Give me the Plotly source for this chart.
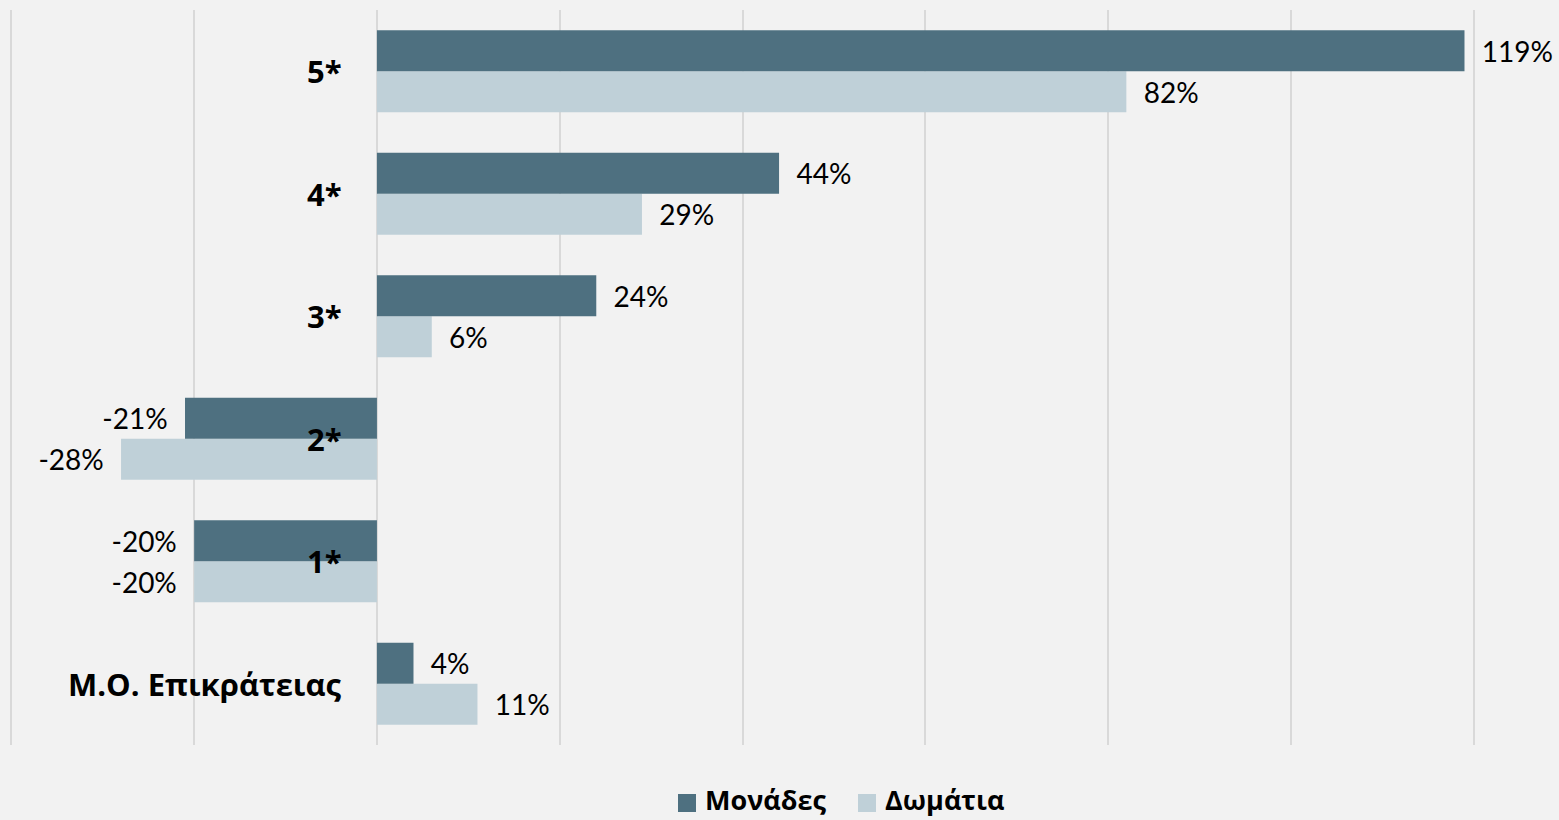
import plotly.graph_objects as go

# Star categories, bottom to top
categories = ["Μ.Ο. Επικράτειας", "1*", "2*", "3*", "4*", "5*"]
monades = [4, -20, -21, 24, 44, 119]     # % change, units
domatia = [11, -20, -28, 6, 29, 82]      # % change, rooms

DARK = "#4e7080"
LIGHT = "#bfd0d8"
BG = "#f2f2f2"
PAD = "\u00a0\u00a0"

W, H = 1559, 820
ML, MR, MT, MB = 10, 84, 10, 75


def labels(values):
    return [f"{PAD}{v}%" if v >= 0 else f"{v}%{PAD}" for v in values]


fig = go.Figure()
fig.add_trace(go.Bar(
    y=categories, x=domatia, orientation="h", name="Δωμάτια",
    marker=dict(color=LIGHT, line=dict(width=0)),
    text=labels(domatia), textposition="outside", cliponaxis=False,
    constraintext="none",
    textfont=dict(family="Lato", size=28, color="#000000"),
))
fig.add_trace(go.Bar(
    y=categories, x=monades, orientation="h", name="Μονάδες",
    marker=dict(color=DARK, line=dict(width=0)),
    text=labels(monades), textposition="outside", cliponaxis=False,
    constraintext="none",
    textfont=dict(family="Lato", size=28, color="#000000"),
))

# Category labels sit just left of the zero line
for c in categories:
    fig.add_annotation(
        x=0, y=c, xref="x", yref="y", text=f"<b>{c}</b>",
        showarrow=False, xanchor="right", yanchor="middle", xshift=-33,
        font=dict(family="Open Sans", size=31, color="#000000"),
    )

# Legend below the plot: colour keys plus bold names
pw = W - ML - MR
ph = H - MT - MB


def px_x(px):
    return (px - ML) / pw


def px_y(py):
    return (H - MB - py) / ph


legend_items = [("Μονάδες", DARK, 678), ("Δωμάτια", LIGHT, 858)]
for name, color, x0 in legend_items:
    fig.add_shape(
        type="rect", xref="paper", yref="paper",
        x0=px_x(x0), x1=px_x(x0 + 18), y0=px_y(812), y1=px_y(794),
        fillcolor=color, line=dict(width=0),
    )
    fig.add_annotation(
        x=px_x(x0 + 25), y=px_y(799), xref="paper", yref="paper",
        text=f"<b>{name}</b>", showarrow=False,
        xanchor="left", yanchor="middle",
        font=dict(family="Open Sans", size=27, color="#000000"),
    )

fig.update_layout(
    width=W, height=H,
    paper_bgcolor=BG, plot_bgcolor=BG,
    margin=dict(l=ML, r=MR, t=MT, b=MB),
    barmode="group", bargap=0.33, bargroupgap=0,
    showlegend=False,
    xaxis=dict(
        range=[-40.15, 120.15], dtick=20, tick0=0,
        showgrid=True, gridcolor="#d9d9d9", gridwidth=1.5,
        zeroline=False, showticklabels=False, showline=False,
    ),
    yaxis=dict(
        showgrid=False, zeroline=False, showticklabels=False, showline=False,
    ),
)

fig.write_html("out.html")
